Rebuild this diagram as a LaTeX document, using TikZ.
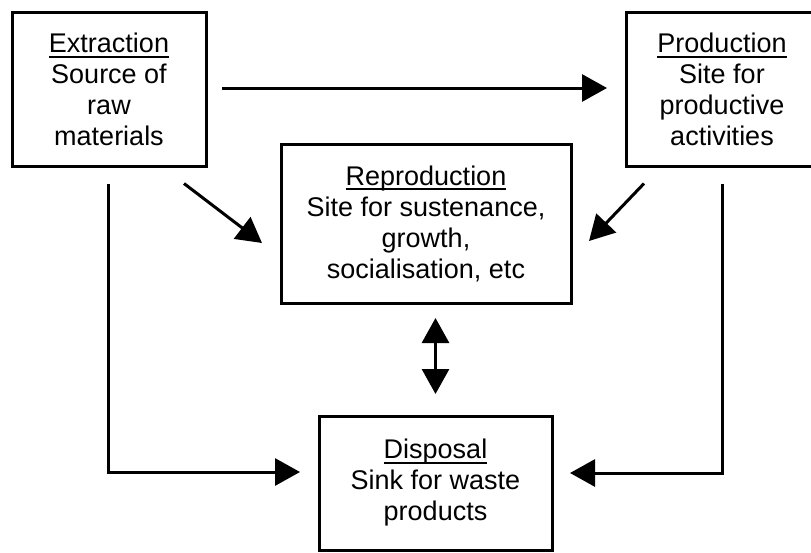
\documentclass[tikz,border=0pt]{standalone}
\usepackage{fontspec}
\setmainfont{Liberation Sans}
\usetikzlibrary{arrows.meta}

% heading word with a solid underline
\newcommand\headword[1]{\leavevmode\setbox0\hbox{#1}\rlap{\rule[-4.9pt]{\wd0}{2pt}}\box0}

\begin{document}
\begin{tikzpicture}[x=1pt,y=-1pt,
  box/.style={draw, line width=3pt, outer sep=0pt, inner sep=0pt,
    align=center, font=\fontsize{27}{31}\selectfont},
  arr/.style={line width=3pt, -{Triangle[length=25pt,width=27pt]}},
  dbl/.style={line width=3pt, {Triangle[length=25pt,width=27pt]}-{Triangle[length=25pt,width=27pt]}}]
\useasboundingbox (0,0) rectangle (811,552);

\node[box, minimum width=194pt, minimum height=154pt] (ext) at (109,89.5)
  {\headword{Extraction}\\Source of\\raw\\materials};
\node[box, minimum width=192pt, minimum height=154pt] (prod) at (722,89.5)
  {\headword{Production}\\Site for\\productive\\activities};
\node[box, minimum width=290pt, minimum height=159pt] (rep) at (426,223.5)
  {\headword{Reproduction}\\Site for sustenance,\\growth,\\socialisation, etc};
\node[box, minimum width=233pt, minimum height=134pt] (disp) at (435.5,483)
  {\headword{Disposal}\\Sink for waste\\products};

% extraction feeds production
\draw[arr, shorten <=16pt, shorten >=19pt]
  ([yshift=1.5pt]ext.east) -- ([yshift=1.5pt]prod.west);
% both feed reproduction
\draw[arr] ([xshift=75pt,yshift=-17pt]ext.south) -- ([xshift=-19pt,yshift=-19.5pt]rep.west);
\draw[arr] ([xshift=-78pt,yshift=-17pt]prod.south) -- ([xshift=18pt,yshift=-17.5pt]rep.east);
% reproduction <-> disposal
\draw[dbl, shorten <=15pt, shorten >=22pt] (rep.south -| disp.north) -- (disp.north);
% extraction and production send waste to disposal
\draw[arr, shorten <=17pt, shorten >=19pt] ([xshift=-1pt]ext.south) |- ([yshift=11pt]disp.west);
\draw[arr, shorten <=17pt, shorten >=18pt] (prod.south) |- ([yshift=10pt]disp.east);
\end{tikzpicture}
\end{document}
